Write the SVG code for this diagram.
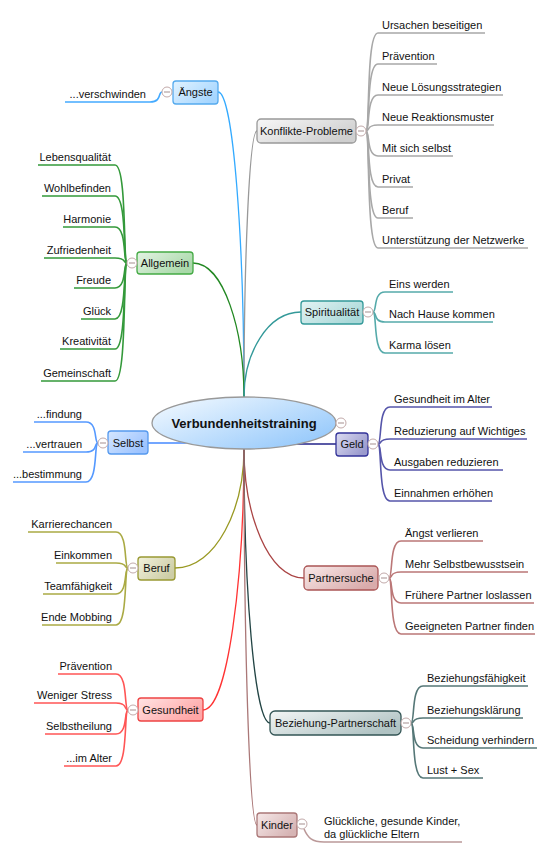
<svg xmlns="http://www.w3.org/2000/svg" width="549" height="855" viewBox="0 0 549 855">
<style>
text{font-family:"Liberation Sans",Arial,sans-serif;font-size:11px;fill:#111}
.c{text-anchor:middle}
.e{text-anchor:end}
.root{font-size:13px;font-weight:bold;text-anchor:middle}
path{fill:none}
.main{stroke-width:1.3}
.sub{stroke-width:1.6}
.tg{fill:#fff;stroke:#c2aaaa;stroke-width:1}
.tm{stroke:#a58f8f;stroke-width:1}
</style>
<defs>
<linearGradient id="gRoot" x1="0" y1="0" x2="1" y2="0.8"><stop offset="0" stop-color="#f6fbff"/><stop offset="1" stop-color="#94c8fb"/></linearGradient>
<linearGradient id="gBlue" x1="0" y1="0" x2="1" y2="0.6"><stop offset="0" stop-color="#e2f3ff"/><stop offset="1" stop-color="#a6d6ff"/></linearGradient>
<linearGradient id="gGray" x1="0" y1="0" x2="1" y2="0.6"><stop offset="0" stop-color="#f7f7f7"/><stop offset="1" stop-color="#cfcfcf"/></linearGradient>
<linearGradient id="gGreen" x1="0" y1="0" x2="1" y2="0.6"><stop offset="0" stop-color="#e4f3e4"/><stop offset="1" stop-color="#a9d9a9"/></linearGradient>
<linearGradient id="gSelbst" x1="0" y1="0" x2="1" y2="0.6"><stop offset="0" stop-color="#d6e7ff"/><stop offset="1" stop-color="#9cc3ff"/></linearGradient>
<linearGradient id="gTeal" x1="0" y1="0" x2="1" y2="0.6"><stop offset="0" stop-color="#e4f4f4"/><stop offset="1" stop-color="#a9d8d8"/></linearGradient>
<linearGradient id="gNavy" x1="0" y1="0" x2="1" y2="0.6"><stop offset="0" stop-color="#dcdcf2"/><stop offset="1" stop-color="#9a9acd"/></linearGradient>
<linearGradient id="gOlive" x1="0" y1="0" x2="1" y2="0.6"><stop offset="0" stop-color="#f2f2dc"/><stop offset="1" stop-color="#cdcda6"/></linearGradient>
<linearGradient id="gRed" x1="0" y1="0" x2="1" y2="0.6"><stop offset="0" stop-color="#ffe4e4"/><stop offset="1" stop-color="#ffa6a6"/></linearGradient>
<linearGradient id="gRose" x1="0" y1="0" x2="1" y2="0.6"><stop offset="0" stop-color="#f9eaea"/><stop offset="1" stop-color="#d9abab"/></linearGradient>
<linearGradient id="gSlate" x1="0" y1="0" x2="1" y2="0.6"><stop offset="0" stop-color="#f3f6f6"/><stop offset="1" stop-color="#b0c3c3"/></linearGradient>
<linearGradient id="gKind" x1="0" y1="0" x2="1" y2="0.6"><stop offset="0" stop-color="#f6e8e8"/><stop offset="1" stop-color="#d6b4b4"/></linearGradient>
</defs>

<g id="connectors">
<path class="main" stroke="#33aaff" d="M218 92 C233.6 92 244 244.5 244 397"/>
<path class="main" stroke="#999999" d="M257 131 C249.2 131 244 264 244 397"/>
<path class="main" stroke="#228822" d="M193 263 C223.6 263 244 330 244 397"/>
<path class="main" stroke="#339999" d="M301 312 C266.8 312 244 354.5 244 397"/>
<path class="main" stroke="#4488ff" d="M148 443 L210 443"/>
<path class="main" stroke="#222288" d="M336 444 L280 444"/>
<path class="main" stroke="#999922" d="M175 568 C216.4 568 244 508.5 244 449"/>
<path class="main" stroke="#ff3333" d="M203 710 C227.6 710 244 579.5 244 449"/>
<path class="main" stroke="#aa4444" d="M304 578 C268 578 244 513.5 244 449"/>
<path class="main" stroke="#224444" d="M270 723 C254.4 723 244 586 244 449"/>
<path class="main" stroke="#aa7777" d="M257 825 C249.2 825 244 637 244 449"/>

<!-- Ängste children -->
<path class="sub" stroke="#44aaff" d="M162 92 C158 92 162 102 150 102 L65 102"/>
<!-- Konflikte children -->
<g class="sub" stroke="#a8a8a8">
<path d="M366 131 C370 131 366 33 378 33 L485 33"/>
<path d="M366 131 C370 131 366 64 378 64 L437 64"/>
<path d="M366 131 C370 131 366 95 378 95 L503 95"/>
<path d="M366 131 C370 131 366 125 378 125 L494 125"/>
<path d="M366 131 C370 131 366 156 378 156 L453 156"/>
<path d="M366 131 C370 131 366 187 378 187 L413 187"/>
<path d="M366 131 C370 131 366 218 378 218 L413 218"/>
<path d="M366 131 C370 131 366 248 378 248 L528 248"/>
</g>
<!-- Allgemein children -->
<g class="sub" stroke="#33993a">
<path d="M127 263 C123 263 127 165 115 165 L38 165"/>
<path d="M127 263 C123 263 127 196 115 196 L42 196"/>
<path d="M127 263 C123 263 127 227 115 227 L63 227"/>
<path d="M127 263 C123 263 127 258 115 258 L44 258"/>
<path d="M127 263 C123 263 127 288 115 288 L74 288"/>
<path d="M127 263 C123 263 127 319 115 319 L81 319"/>
<path d="M127 263 C123 263 127 349 115 349 L60 349"/>
<path d="M127 263 C123 263 127 381 115 381 L41 381"/>
</g>
<!-- Spiritualität children -->
<g class="sub" stroke="#55aaaa">
<path d="M373 312 C377 312 373 292 385 292 L453 292"/>
<path d="M373 312 C377 312 373 322 385 322 L493 322"/>
<path d="M373 312 C377 312 373 353 385 353 L453 353"/>
</g>
<!-- Selbst children -->
<g class="sub" stroke="#5599ff">
<path d="M98 443 C94 443 98 422 86 422 L34 422"/>
<path d="M98 443 C94 443 98 452 86 452 L23 452"/>
<path d="M98 443 C94 443 98 482 86 482 L13 482"/>
</g>
<!-- Geld children -->
<g class="sub" stroke="#5555aa">
<path d="M378 444 C382 444 378 407 390 407 L492 407"/>
<path d="M378 444 C382 444 378 439 390 439 L527 439"/>
<path d="M378 444 C382 444 378 470 390 470 L503 470"/>
<path d="M378 444 C382 444 378 501 390 501 L492 501"/>
</g>
<!-- Beruf children -->
<g class="sub" stroke="#aaaa44">
<path d="M128 568 C124 568 128 532 116 532 L28 532"/>
<path d="M128 568 C124 568 128 563 116 563 L56 563"/>
<path d="M128 568 C124 568 128 594 116 594 L43 594"/>
<path d="M128 568 C124 568 128 625 116 625 L42 625"/>
</g>
<!-- Gesundheit children -->
<g class="sub" stroke="#ff5555">
<path d="M128 710 C124 710 128 674 116 674 L58 674"/>
<path d="M128 710 C124 710 128 703 116 703 L34 703"/>
<path d="M128 710 C124 710 128 734 116 734 L45 734"/>
<path d="M128 710 C124 710 128 766 116 766 L64 766"/>
</g>
<!-- Partnersuche children -->
<g class="sub" stroke="#bb7777">
<path d="M389 578 C393 578 389 541 401 541 L483 541"/>
<path d="M389 578 C393 578 389 572 401 572 L528 572"/>
<path d="M389 578 C393 578 389 603 401 603 L534 603"/>
<path d="M389 578 C393 578 389 634 401 634 L535 634"/>
</g>
<!-- Beziehung children -->
<g class="sub" stroke="#557777">
<path d="M411 723 C415 723 411 686 423 686 L528 686"/>
<path d="M411 723 C415 723 411 718 423 718 L523 718"/>
<path d="M411 723 C415 723 411 748 423 748 L537 748"/>
<path d="M411 723 C415 723 411 778 423 778 L483 778"/>
</g>
<!-- Kinder child -->
<path class="sub" stroke="#bb9999" d="M304 829 C308 838 312 842 324 842 L462 842"/>
</g>

<g id="root">
<ellipse cx="244" cy="423" rx="92" ry="26" fill="url(#gRoot)" stroke="#999999" stroke-width="1.3"/>
<text class="root" x="244" y="428">Verbundenheitstraining</text>
<circle class="tg" cx="341" cy="423" r="5"/><path class="tm" d="M338 423 H344"/>
</g>

<g id="n-aengste">
<rect x="173" y="81" width="45" height="23" rx="3" fill="url(#gBlue)" stroke="#55aaee" stroke-width="1.3"/>
<text class="c" x="195.5" y="96">Ängste</text>
<circle class="tg" cx="167" cy="92" r="5"/><path class="tm" d="M164 92 H170"/>
<text class="e" x="146" y="98">...verschwinden</text>
</g>

<g id="n-konflikte">
<rect x="257" y="119" width="99" height="24" rx="4" fill="url(#gGray)" stroke="#999999" stroke-width="1.3"/>
<text class="c" x="306.5" y="135">Konflikte-Probleme</text>
<circle class="tg" cx="361" cy="131" r="5"/><path class="tm" d="M358 131 H364"/>
<text x="382" y="29">Ursachen beseitigen</text>
<text x="382" y="60">Prävention</text>
<text x="382" y="91">Neue Lösungsstrategien</text>
<text x="382" y="121">Neue Reaktionsmuster</text>
<text x="382" y="152">Mit sich selbst</text>
<text x="382" y="183">Privat</text>
<text x="382" y="214">Beruf</text>
<text x="382" y="244">Unterstützung der Netzwerke</text>
</g>

<g id="n-allgemein">
<rect x="137" y="252" width="56" height="22" rx="3" fill="url(#gGreen)" stroke="#44aa44" stroke-width="1.3"/>
<text class="c" x="165" y="267">Allgemein</text>
<circle class="tg" cx="132" cy="263" r="5"/><path class="tm" d="M129 263 H135"/>
<text class="e" x="111" y="161">Lebensqualität</text>
<text class="e" x="111" y="192">Wohlbefinden</text>
<text class="e" x="111" y="223">Harmonie</text>
<text class="e" x="111" y="254">Zufriedenheit</text>
<text class="e" x="111" y="284">Freude</text>
<text class="e" x="111" y="315">Glück</text>
<text class="e" x="111" y="345">Kreativität</text>
<text class="e" x="111" y="377">Gemeinschaft</text>
</g>

<g id="n-spiritualitaet">
<rect x="301" y="301" width="62" height="23" rx="3" fill="url(#gTeal)" stroke="#339999" stroke-width="1.3"/>
<text class="c" x="332" y="316">Spiritualität</text>
<circle class="tg" cx="368" cy="312" r="5"/><path class="tm" d="M365 312 H371"/>
<text x="389" y="288">Eins werden</text>
<text x="389" y="318">Nach Hause kommen</text>
<text x="389" y="349">Karma lösen</text>
</g>

<g id="n-selbst">
<rect x="108" y="431" width="40" height="23" rx="3" fill="url(#gSelbst)" stroke="#5599ee" stroke-width="1.3"/>
<text class="c" x="128" y="447">Selbst</text>
<circle class="tg" cx="103" cy="443" r="5"/><path class="tm" d="M100 443 H106"/>
<text class="e" x="82" y="418">...findung</text>
<text class="e" x="82" y="448">...vertrauen</text>
<text class="e" x="82" y="478">...bestimmung</text>
</g>

<g id="n-geld">
<rect x="336" y="433" width="32" height="23" rx="3" fill="url(#gNavy)" stroke="#333399" stroke-width="1.3"/>
<text class="c" x="352" y="448">Geld</text>
<circle class="tg" cx="373" cy="444" r="5"/><path class="tm" d="M370 444 H376"/>
<text x="394" y="403">Gesundheit im Alter</text>
<text x="394" y="435">Reduzierung auf Wichtiges</text>
<text x="394" y="466">Ausgaben reduzieren</text>
<text x="394" y="497">Einnahmen erhöhen</text>
</g>

<g id="n-beruf">
<rect x="138" y="557" width="37" height="23" rx="3" fill="url(#gOlive)" stroke="#999933" stroke-width="1.3"/>
<text class="c" x="156.5" y="572">Beruf</text>
<circle class="tg" cx="133" cy="568" r="5"/><path class="tm" d="M130 568 H136"/>
<text class="e" x="112" y="528">Karrierechancen</text>
<text class="e" x="112" y="559">Einkommen</text>
<text class="e" x="112" y="590">Teamfähigkeit</text>
<text class="e" x="112" y="621">Ende Mobbing</text>
</g>

<g id="n-partnersuche">
<rect x="304" y="566" width="74" height="24" rx="4" fill="url(#gRose)" stroke="#aa5555" stroke-width="1.3"/>
<text class="c" x="341" y="582">Partnersuche</text>
<circle class="tg" cx="384" cy="578" r="5"/><path class="tm" d="M381 578 H387"/>
<text x="405" y="537">Ängst verlieren</text>
<text x="405" y="568">Mehr Selbstbewusstsein</text>
<text x="405" y="599">Frühere Partner loslassen</text>
<text x="405" y="630">Geeigneten Partner finden</text>
</g>

<g id="n-gesundheit">
<rect x="138" y="698" width="65" height="23" rx="3" fill="url(#gRed)" stroke="#ee4444" stroke-width="1.3"/>
<text class="c" x="170.5" y="714">Gesundheit</text>
<circle class="tg" cx="133" cy="710" r="5"/><path class="tm" d="M130 710 H136"/>
<text class="e" x="112" y="670">Prävention</text>
<text class="e" x="112" y="699">Weniger Stress</text>
<text class="e" x="112" y="730">Selbstheilung</text>
<text class="e" x="112" y="762">...im Alter</text>
</g>

<g id="n-beziehung">
<rect x="270" y="711" width="131" height="24" rx="5" fill="url(#gSlate)" stroke="#335555" stroke-width="1.3"/>
<text class="c" x="335.5" y="727">Beziehung-Partnerschaft</text>
<circle class="tg" cx="406" cy="723" r="5"/><path class="tm" d="M403 723 H409"/>
<text x="427" y="682">Beziehungsfähigkeit</text>
<text x="427" y="714">Beziehungsklärung</text>
<text x="427" y="744">Scheidung verhindern</text>
<text x="427" y="774">Lust + Sex</text>
</g>

<g id="n-kinder">
<rect x="257" y="813" width="40" height="24" rx="3" fill="url(#gKind)" stroke="#aa7777" stroke-width="1.3"/>
<text class="c" x="277" y="829">Kinder</text>
<circle class="tg" cx="302" cy="824" r="5"/><path class="tm" d="M299 824 H305"/>
<text x="324" y="825">Glückliche, gesunde Kinder,</text>
<text x="324" y="838">da glückliche Eltern</text>
</g>
</svg>
